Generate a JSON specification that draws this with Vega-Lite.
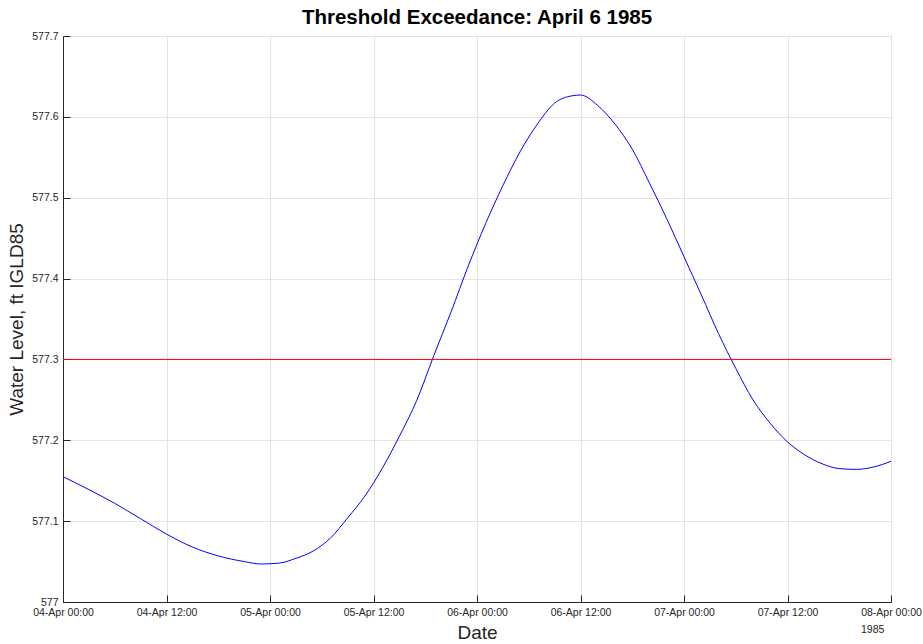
{
  "$schema": "https://vega.github.io/schema/vega-lite/v6.json",
  "width": 828,
  "height": 566,
  "autosize": {"type": "none"},
  "padding": {"left": 63, "top": 36, "right": 32, "bottom": 42},
  "background": "white",
  "title": {"text": "Threshold Exceedance: April 6 1985", "font": "Liberation Sans", "fontSize": 20.5, "fontWeight": "bold", "color": "#000000", "offset": 3},
  "layer": [
    {
      "data": {"values": [
        {"date": "1985-04-04T00:00", "value": 577.155},
        {"date": "1985-04-04T03:00", "value": 577.139},
        {"date": "1985-04-04T06:00", "value": 577.122},
        {"date": "1985-04-04T09:00", "value": 577.103},
        {"date": "1985-04-04T12:00", "value": 577.084},
        {"date": "1985-04-04T15:00", "value": 577.068},
        {"date": "1985-04-04T18:00", "value": 577.057},
        {"date": "1985-04-04T21:00", "value": 577.050},
        {"date": "1985-04-04T23:00", "value": 577.047},
        {"date": "1985-04-05T01:00", "value": 577.048},
        {"date": "1985-04-05T03:00", "value": 577.054},
        {"date": "1985-04-05T05:00", "value": 577.063},
        {"date": "1985-04-05T07:00", "value": 577.079},
        {"date": "1985-04-05T09:00", "value": 577.104},
        {"date": "1985-04-05T11:00", "value": 577.131},
        {"date": "1985-04-05T13:00", "value": 577.165},
        {"date": "1985-04-05T15:00", "value": 577.205},
        {"date": "1985-04-05T17:00", "value": 577.249},
        {"date": "1985-04-05T19:00", "value": 577.305},
        {"date": "1985-04-05T21:00", "value": 577.359},
        {"date": "1985-04-05T23:00", "value": 577.416},
        {"date": "1985-04-06T01:00", "value": 577.468},
        {"date": "1985-04-06T03:00", "value": 577.515},
        {"date": "1985-04-06T05:00", "value": 577.557},
        {"date": "1985-04-06T07:00", "value": 577.591},
        {"date": "1985-04-06T09:00", "value": 577.617},
        {"date": "1985-04-06T11:00", "value": 577.626},
        {"date": "1985-04-06T12:00", "value": 577.627},
        {"date": "1985-04-06T14:00", "value": 577.614},
        {"date": "1985-04-06T16:00", "value": 577.591},
        {"date": "1985-04-06T18:00", "value": 577.560},
        {"date": "1985-04-06T20:00", "value": 577.518},
        {"date": "1985-04-06T22:00", "value": 577.474},
        {"date": "1985-04-07T00:00", "value": 577.427},
        {"date": "1985-04-07T02:00", "value": 577.380},
        {"date": "1985-04-07T04:00", "value": 577.332},
        {"date": "1985-04-07T06:00", "value": 577.289},
        {"date": "1985-04-07T08:00", "value": 577.250},
        {"date": "1985-04-07T10:00", "value": 577.221},
        {"date": "1985-04-07T12:00", "value": 577.198},
        {"date": "1985-04-07T14:00", "value": 577.182},
        {"date": "1985-04-07T16:00", "value": 577.171},
        {"date": "1985-04-07T18:00", "value": 577.165},
        {"date": "1985-04-07T20:00", "value": 577.164},
        {"date": "1985-04-07T22:00", "value": 577.167},
        {"date": "1985-04-08T00:00", "value": 577.174}
      ]},
      "mark": {"type": "line", "color": "#0000ff", "strokeWidth": 1, "interpolate": "monotone"},
      "encoding": {
        "x": {
          "field": "date", "type": "temporal",
          "axis": {"title": "Date", "format": "%d-%b %H:%M", "grid": true, "tickCount": 8, "titleFontSize": 19, "titlePadding": 6}
        },
        "y": {
          "field": "value", "type": "quantitative",
          "scale": {"domain": [577, 577.7], "zero": false, "nice": false},
          "axis": {"title": "Water Level, ft IGLD85", "grid": true, "values": [577, 577.1, 577.2, 577.3, 577.4, 577.5, 577.6, 577.7], "labelExpr": "datum.value < 577.05 ? '577' : format(datum.value, '.1f')", "titleFontSize": 19, "titlePadding": 5}
        }
      }
    },
    {
      "data": {"values": [{"start": "1985-04-04T00:00", "end": "1985-04-08T00:00", "threshold": 577.3}]},
      "mark": {"type": "rule", "color": "#ff0000", "strokeWidth": 1},
      "encoding": {
        "x": {"field": "start", "type": "temporal"},
        "x2": {"field": "end"},
        "y": {"field": "threshold", "type": "quantitative"}
      }
    },
    {
      "data": {"values": [{"date": "1985-04-08T00:00", "value": 577, "label": "1985"}]},
      "mark": {"type": "text", "align": "left", "baseline": "middle", "dx": -30, "dy": 28, "fontSize": 10.5, "font": "Liberation Sans", "color": "#262626"},
      "encoding": {
        "x": {"field": "date", "type": "temporal"},
        "y": {"field": "value", "type": "quantitative"},
        "text": {"field": "label"}
      }
    }
  ],
  "config": {
    "view": {"stroke": "#262626", "strokeWidth": 1},
    "font": "Liberation Sans",
    "axis": {
      "domainColor": "#262626",
      "tickColor": "#262626",
      "tickSize": -7,
      "labelPadding": 12,
      "labelFont": "Liberation Sans",
      "labelFontSize": 10.5,
      "labelColor": "#262626",
      "titleFont": "Liberation Sans",
      "titleFontWeight": "normal",
      "titleColor": "#262626",
      "gridColor": "#e3e3e3",
      "labelFlush": false
    }
  }
}
